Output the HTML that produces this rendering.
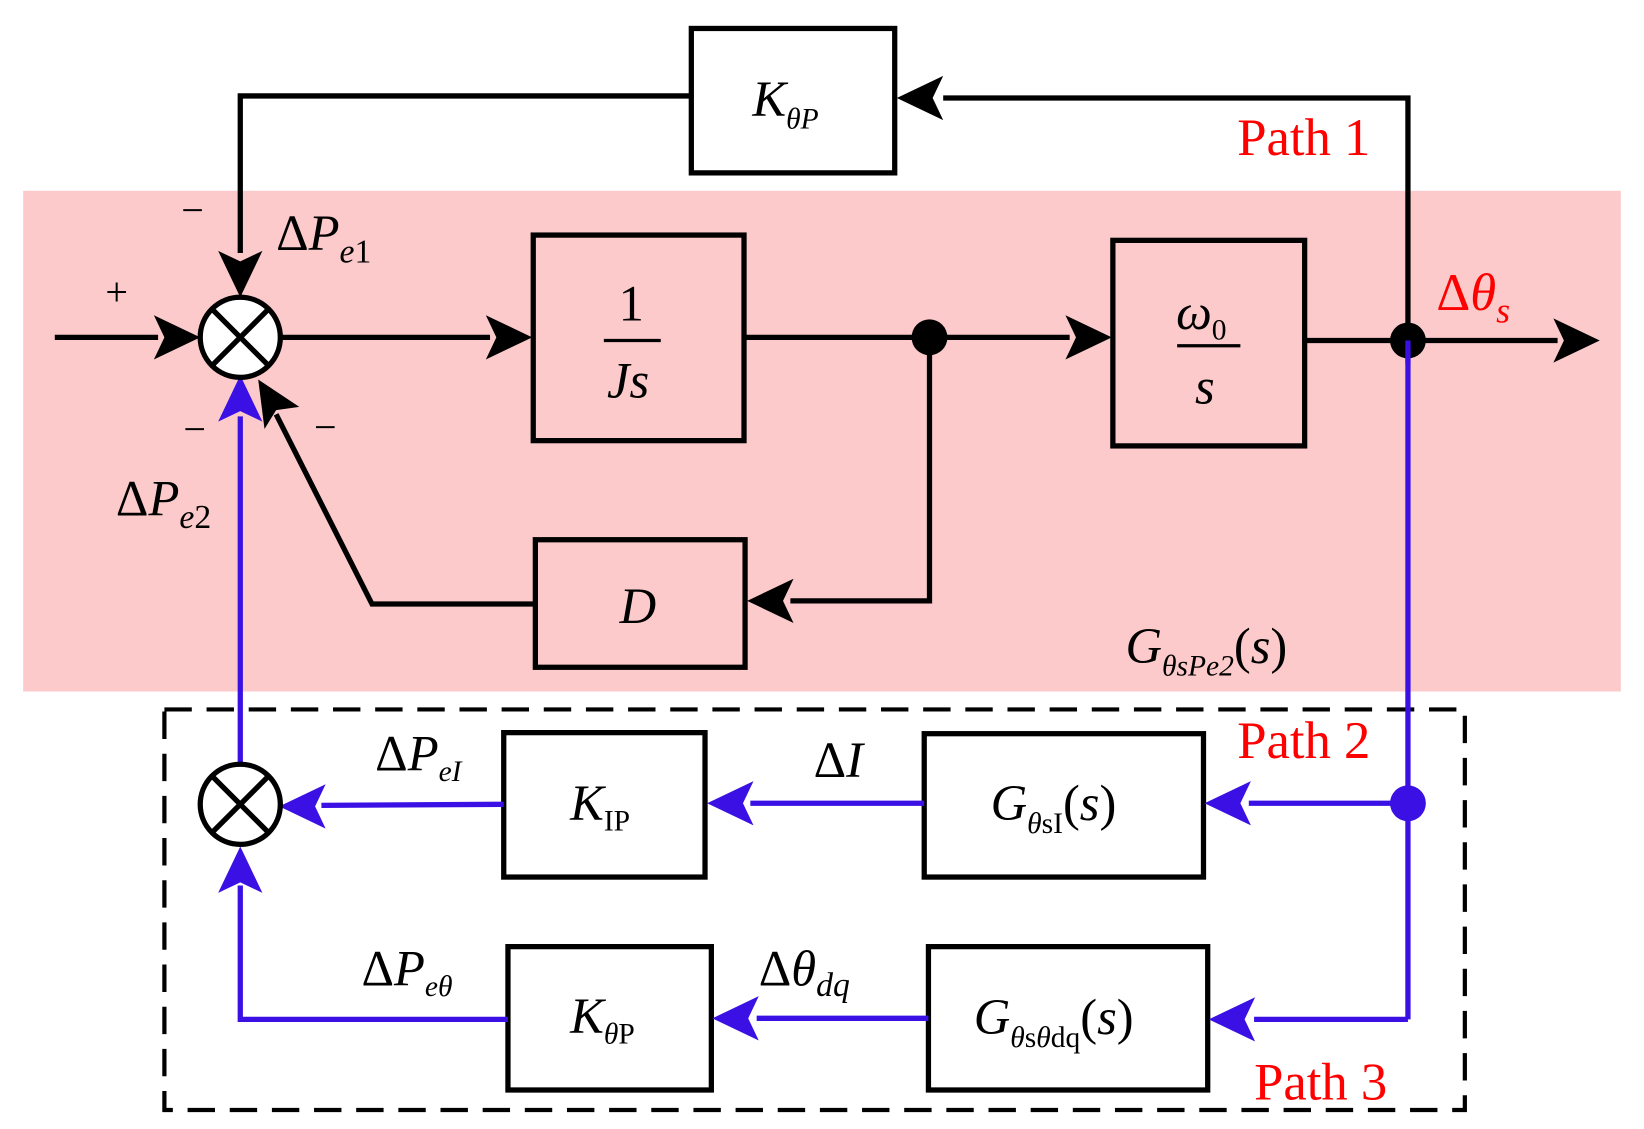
<!DOCTYPE html>
<html><head><style>html,body{margin:0;padding:0;background:#fff}svg{display:block}svg text{font-family:"Liberation Serif","DejaVu Serif",serif}</style></head><body>
<svg width="1644" height="1129" viewBox="0 0 1560 1071" preserveAspectRatio="none" xmlns="http://www.w3.org/2000/svg">
<rect x="22" y="181" width="1516" height="475" fill="#fccaca"/>
<rect x="156" y="673" width="1234" height="380" fill="none" stroke="#000" stroke-width="4" stroke-dasharray="26,14"/>
<g fill="none" stroke="#000" stroke-width="5">
<rect x="656" y="27" width="193" height="137" fill="#fff"/>
<rect x="506" y="223" width="200" height="195"/>
<rect x="1056" y="228" width="182" height="195"/>
<rect x="508" y="512" width="199" height="121"/>
<rect x="478" y="695" width="191" height="137" fill="#fff"/>
<rect x="877" y="696" width="265" height="136" fill="#fff"/>
<rect x="482" y="898" width="193" height="136" fill="#fff"/>
<rect x="881" y="898" width="265" height="136" fill="#fff"/>
<polyline points="1336,323 1336,93 895,93"/>
<polyline points="656,91 228,91 228,240"/>
<line x1="52" y1="320" x2="150" y2="320"/>
<line x1="266" y1="320" x2="465" y2="320"/>
<line x1="706" y1="320" x2="1015" y2="320"/>
<line x1="1238" y1="323" x2="1478" y2="323"/>
<polyline points="882,320 882,570 750,570"/>
<polyline points="508,573 353,573 262,393"/>
</g>
<g fill="#000">
<path d="M851,93 L895,72 L885,93 L895,114 Z"/>
<path d="M228,282 L207,238 L228,248 L249,238 Z"/>
<path d="M190,320 L146,299 L156,320 L146,341 Z"/>
<path d="M505,320 L461,299 L471,320 L461,341 Z"/>
<path d="M1055,320 L1011,299 L1021,320 L1011,341 Z"/>
<path d="M1518,323 L1474,302 L1484,323 L1474,344 Z"/>
<path d="M709,570 L753,549 L743,570 L753,591 Z"/>
<path d="M245,360 L284,386 L262,389 L251,407 Z"/>
<circle cx="882" cy="320" r="17"/>
</g>
<g fill="none" stroke="#3a10e5" stroke-width="5">
<line x1="1336" y1="323" x2="1336" y2="967"/>
<line x1="1336" y1="762" x2="1185" y2="762"/>
<line x1="877" y1="762" x2="712" y2="762"/>
<line x1="478" y1="763" x2="305" y2="764"/>
<line x1="228" y1="725" x2="228" y2="395"/>
<polyline points="1336,967 1190,967"/>
<line x1="881" y1="966" x2="718" y2="966"/>
<polyline points="482,967 228,967 228,840"/>
</g>
<g fill="#3a10e5">
<path d="M1143,762 L1187,741 L1177,762 L1187,783 Z"/>
<path d="M671,762 L715,741 L705,762 L715,783 Z"/>
<path d="M265,765 L309,744 L299,765 L309,786 Z"/>
<path d="M228,356 L207,400 L228,390 L249,400 Z"/>
<path d="M1147,967 L1191,946 L1181,967 L1191,988 Z"/>
<path d="M676,966 L720,945 L710,966 L720,987 Z"/>
<path d="M228,803 L207,847 L228,837 L249,847 Z"/>
<circle cx="1336" cy="762" r="17"/>
</g>
<circle cx="1336" cy="323" r="17" fill="#000"/>
<line x1="1336" y1="323" x2="1336" y2="345" stroke="#3a10e5" stroke-width="5"/>
<g fill="#fff" stroke="#000" stroke-width="5">
<circle cx="228" cy="320" r="38"/>
<circle cx="228" cy="763" r="38"/>
</g>
<g stroke="#000" stroke-width="5">
<line x1="201" y1="293" x2="255" y2="347"/><line x1="255" y1="293" x2="201" y2="347"/>
<line x1="201" y1="736" x2="255" y2="790"/><line x1="255" y1="736" x2="201" y2="790"/>
<line x1="573" y1="323" x2="627" y2="323" stroke-width="3"/>
<line x1="1117" y1="328" x2="1177" y2="328" stroke-width="3"/>
</g>
<g font-size="48" fill="#000">
<text x="714" y="110" font-style="italic">K<tspan font-size="28" dy="12">θP</tspan></text>
<text x="587" y="304">1</text>
<text x="576" y="377" font-style="italic">Js</text>
<text x="1116" y="312" font-style="italic">ω<tspan font-size="28" dy="10" font-style="normal">0</tspan></text>
<text x="1134" y="383" font-style="italic">s</text>
<text x="588" y="591" font-style="italic">D</text>
<text x="541" y="778" font-style="italic">K<tspan font-size="28" dy="10" font-style="normal">IP</tspan></text>
<text x="541" y="980" font-style="italic">K<tspan font-size="28" dy="10"><tspan font-style="italic">θ</tspan><tspan font-style="normal">P</tspan></tspan></text>
<text x="940" y="778" font-style="italic">G<tspan font-size="28" dy="12">θ</tspan><tspan font-size="28" font-style="normal">sI</tspan><tspan dy="-12" font-style="normal">(</tspan>s<tspan font-style="normal">)</tspan></text>
<text x="924" y="981" font-style="italic">G<tspan font-size="28" dy="12">θ</tspan><tspan font-size="28" font-style="normal">s</tspan><tspan font-size="28">θ</tspan><tspan font-size="28" font-style="normal">dq</tspan><tspan dy="-12" font-style="normal">(</tspan>s<tspan font-style="normal">)</tspan></text>
<text x="1068" y="629" font-style="italic">G<tspan font-size="28" dy="12">θsPe2</tspan><tspan dy="-12" font-style="normal">(</tspan>s<tspan font-style="normal">)</tspan></text>
<text x="262" y="237">Δ<tspan font-style="italic">P</tspan><tspan font-size="32" dy="12"><tspan font-style="italic">e</tspan>1</tspan></text>
<text x="110" y="489">Δ<tspan font-style="italic">P</tspan><tspan font-size="32" dy="12"><tspan font-style="italic">e</tspan>2</tspan></text>
<text x="356" y="731">Δ<tspan font-style="italic">P</tspan><tspan font-size="28" dy="10" font-style="italic">eI</tspan></text>
<text x="772" y="737">Δ<tspan font-style="italic">I</tspan></text>
<text x="343" y="935">Δ<tspan font-style="italic">P</tspan><tspan font-size="28" dy="10" font-style="italic">eθ</tspan></text>
<text x="720" y="935">Δ<tspan font-style="italic">θ</tspan><tspan font-size="32" dy="10" font-style="italic">dq</tspan></text>
<text x="100" y="290" font-size="38">+</text>
<text x="172" y="212" font-size="38">−</text>
<text x="174" y="420" font-size="38">−</text>
<text x="298" y="418" font-size="38">−</text>
</g>
<g font-size="50" fill="#f00">
<text x="1174" y="147">Path 1</text>
<text x="1174" y="719">Path 2</text>
<text x="1190" y="1043">Path 3</text>
<text x="1363" y="294">Δ<tspan font-style="italic">θ</tspan><tspan font-size="34" dy="12" font-style="italic">s</tspan></text>
</g>
</svg>
</body></html>
